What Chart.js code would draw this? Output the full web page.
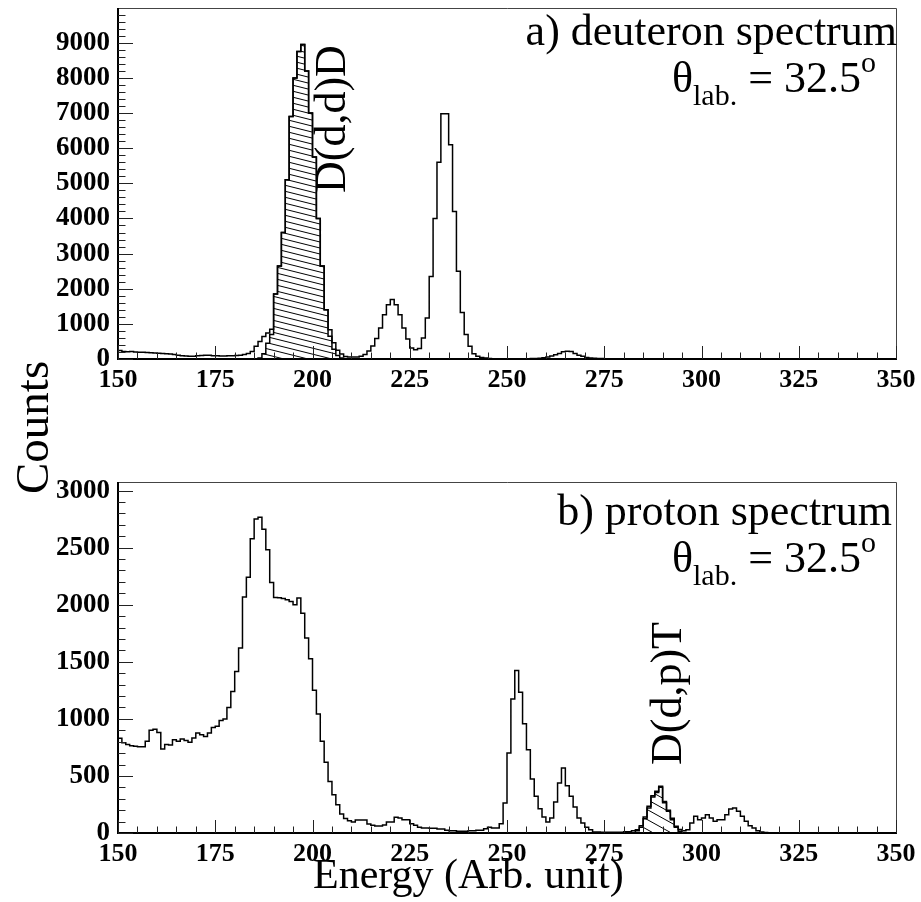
<!DOCTYPE html>
<html>
<head>
<meta charset="utf-8">
<script src="https://cdn.jsdelivr.net/npm/chart.js"></script>
<style>
html, body { margin: 0; padding: 0; background: #fff; }
#wrap { position: relative; width: 921px; height: 902px; }
#wrap canvas { position: absolute; left: 0; top: 0; }
</style>
</head>
<body>
<div id="wrap">
<canvas id="deuteronChart" width="921" height="902"></canvas>
<canvas id="protonChart" width="921" height="902"></canvas>
</div>
<script>
// histogram bins are 1 energy unit wide, first bin starts at 150
var binStart = 150;

// a) deuteron spectrum, bins 150..349
var deuteronCounts = [
  240, 215, 205, 210, 200, 190, 195, 185, 175, 170,
  165, 160, 150, 140, 130, 110, 95, 85, 80, 80,
  90, 100, 110, 105, 95, 90, 85, 85, 90, 95,
  100, 110, 130, 160, 210, 360, 500, 640, 740, 850,
  1850, 2650, 3600, 5100, 6900, 8000, 8750, 8950, 8200, 7000,
  5750, 4000, 2650, 1400, 830, 460, 250, 140, 70, 55,
  55, 60, 80, 130, 230, 370, 580, 880, 1260, 1545,
  1690, 1545, 1260, 880, 570, 310, 265, 300, 600, 1170,
  2350, 4000, 5600, 6980, 6980, 6100, 4200, 2500, 1320, 700,
  360, 150, 80, 40, 25, 15, 10, 10, 8, 8,
  8, 8, 8, 8, 10, 10, 12, 15, 20, 35,
  55, 85, 120, 160, 205, 220, 215, 160, 110, 75,
  45, 30, 20, 15, 12, 10, 10, 10, 8, 8,
  8, 6, 5, 4, 3, 2, 2, 1, 1, 1,
  0, 0, 0, 0, 0, 0, 0, 0, 0, 0,
  0, 0, 0, 0, 0, 0, 0, 0, 0, 0,
  0, 0, 0, 0, 0, 0, 0, 0, 0, 0,
  0, 0, 0, 0, 0, 0, 0, 0, 0, 0,
  0, 0, 0, 0, 0, 0, 0, 0, 0, 0,
  0, 0, 0, 0, 0, 0, 0, 0, 0, 0
];

// D(d,d)D elastic part (hatched), bins 186..207
var ddStart = 186;
var ddCounts = [30, 150, 450, 700, 1850, 2650, 3600, 5100, 6900, 8000, 8750,
  8950, 8200, 7000, 5750, 4000, 2650, 1400, 650, 280, 100, 30];

// b) proton spectrum, bins 150..349
var protonCounts = [
  830, 790, 775, 765, 760, 755, 755, 803, 900, 910,
  880, 735, 775, 770, 817, 803, 823, 810, 795, 832,
  875, 860, 846, 875, 925, 935, 985, 998, 1100, 1240,
  1415, 1620, 2067, 2240, 2578, 2750, 2767, 2662, 2481, 2195,
  2064, 2060, 2055, 2043, 2029, 2000, 2058, 1926, 1708, 1527,
  1250, 1042, 803, 619, 452, 336, 248, 166, 126, 108,
  96, 114, 114, 114, 79, 67, 61, 61, 70, 96,
  96, 137, 131, 117, 117, 82, 67, 50, 44, 44,
  41, 41, 35, 35, 23, 20, 20, 15, 15, 15,
  20, 20, 23, 23, 38, 50, 44, 44, 82, 263,
  700, 1173, 1424, 1232, 957, 730, 473, 321, 213, 140,
  96, 131, 271, 438, 569, 415, 321, 228, 131, 88,
  50, 29, 9, 9, 6, 6, 6, 6, 6, 6,
  12, 12, 20, 29, 64, 140, 234, 327, 365, 409,
  277, 200, 130, 60, 30, 20, 29, 88, 146, 117,
  131, 160, 131, 102, 117, 117, 160, 210, 219, 190,
  146, 102, 64, 44, 20, 8, 5, 3, 0, 0,
  0, 0, 0, 0, 0, 0, 0, 0, 0, 0,
  0, 0, 0, 0, 0, 0, 0, 0, 0, 0,
  0, 0, 0, 0, 0, 0, 0, 0, 0, 0
];

// D(d,p)T part (hatched), bins 283..294
var dpStart = 283;
var dpCounts = [20, 50, 125, 220, 315, 355, 400, 265, 190, 115, 50, 15];

var energyTicks = [150, 175, 200, 225, 250, 275, 300, 325, 350];
var deuteronTicks = [0, 1000, 2000, 3000, 4000, 5000, 6000, 7000, 8000, 9000];
var protonTicks = [0, 500, 1000, 1500, 2000, 2500, 3000];

var SERIF = '"Liberation Serif", "DejaVu Serif", serif';

// turn bin contents into step points (left edges + closing edge)
function histPoints(start, counts, closed) {
  var pts = [];
  if (closed) pts.push({x: start, y: 0});
  counts.forEach(function(v, i) { pts.push({x: start + i, y: v}); });
  pts.push({x: start + counts.length, y: counts[counts.length - 1]});
  if (closed) pts.push({x: start + counts.length, y: 0});
  return pts;
}

function hatch(ctx, w, d) {
  var c = document.createElement('canvas');
  c.width = w; c.height = d;
  var g = c.getContext('2d');
  g.strokeStyle = '#000';
  g.lineWidth = 1;
  for (var k = -1; k <= 1; k++) {
    g.beginPath();
    g.moveTo(0, k * d);
    g.lineTo(w, k * d + d);
    g.stroke();
  }
  return ctx.createPattern(c, 'repeat');
}

function drawTheta(ctx, right, base) {
  var parts = [
    ['\u03b8', '44px ' + SERIF, 0],
    ['lab.', '30px ' + SERIF, 13],
    [' = 32.5', '44px ' + SERIF, 0],
    ['o', '30px ' + SERIF, -20]
  ];
  var total = 0;
  parts.forEach(function(p) { ctx.font = p[1]; total += ctx.measureText(p[0]).width; });
  var x = right - total;
  ctx.textAlign = 'left';
  ctx.textBaseline = 'alphabetic';
  parts.forEach(function(p) {
    ctx.font = p[1];
    ctx.fillText(p[0], x, base + p[2]);
    x += ctx.measureText(p[0]).width;
  });
}

function drawRotated(ctx, text, x, y, font) {
  ctx.save();
  ctx.translate(x, y);
  ctx.rotate(-Math.PI / 2);
  ctx.font = font;
  ctx.textAlign = 'left';
  ctx.textBaseline = 'alphabetic';
  ctx.fillText(text, 0, 0);
  ctx.restore();
}

// frame, inward ticks, labels and annotations in ROOT style
function framePlugin(cfg) {
  return {
    id: 'rootFrame',
    afterDraw: function(chart) {
      var ctx = chart.ctx, a = chart.chartArea;
      var xs = chart.scales.x, ys = chart.scales.y;
      ctx.save();
      ctx.strokeStyle = '#444';
      ctx.lineWidth = 1;
      ctx.beginPath();
      ctx.moveTo(a.left, a.top + 0.5);
      ctx.lineTo(a.right + 0.5, a.top + 0.5);
      ctx.lineTo(a.right + 0.5, a.bottom);
      ctx.stroke();

      ctx.strokeStyle = '#000';
      ctx.lineWidth = 2;
      ctx.beginPath();
      ctx.moveTo(a.left, a.top);
      ctx.lineTo(a.left, a.bottom);
      ctx.lineTo(a.right + 1, a.bottom);
      ctx.stroke();

      ctx.lineWidth = 1;
      ctx.strokeStyle = '#222';
      var v, p, len;
      for (v = 150; v <= 350; v += 5) {
        p = Math.round(xs.getPixelForValue(v)) + 0.5;
        len = (v % 25 === 0) ? 13 : 6.5;
        ctx.beginPath(); ctx.moveTo(p, a.bottom); ctx.lineTo(p, a.bottom - len); ctx.stroke();
      }
      for (v = 0; v <= ys.max; v += cfg.minor) {
        p = Math.round(ys.getPixelForValue(v)) + 0.5;
        len = (v % cfg.major === 0) ? 15 : 7.5;
        ctx.beginPath(); ctx.moveTo(a.left, p); ctx.lineTo(a.left + len, p); ctx.stroke();
      }

      ctx.fillStyle = '#000';
      ctx.font = 'bold 26px ' + SERIF;
      ctx.textAlign = 'center';
      ctx.textBaseline = 'alphabetic';
      energyTicks.forEach(function(t) {
        ctx.fillText(String(t), xs.getPixelForValue(t), a.bottom + 28);
      });
      ctx.font = 'bold 27px ' + SERIF;
      ctx.textAlign = 'right';
      ctx.textBaseline = 'middle';
      cfg.yTicks.forEach(function(t) {
        ctx.fillText(String(t), a.left - 8, ys.getPixelForValue(t));
      });

      ctx.font = '44px ' + SERIF;
      ctx.textAlign = 'right';
      ctx.textBaseline = 'alphabetic';
      ctx.fillText(cfg.title, cfg.titleRight, cfg.titleBase);
      drawTheta(ctx, 876, cfg.titleBase + 47);
      drawRotated(ctx, cfg.reaction, cfg.reactionX, cfg.reactionY, '44px ' + SERIF);
      if (cfg.axisTitles) {
        drawRotated(ctx, 'Counts', 48, 494, '47px ' + SERIF);
        ctx.font = '42px ' + SERIF;
        ctx.textAlign = 'left';
        ctx.fillText('Energy (Arb. unit)', 313, 888);
      }
      ctx.restore();
    }
  };
}

function makeChart(id, total, partStart, partCounts, pattern, yMax, pad, cfg) {
  return new Chart(document.getElementById(id), {
    type: 'line',
    data: {
      datasets: [
        {
          data: histPoints(partStart, partCounts, true),
          borderColor: '#000',
          borderWidth: 1.5,
          backgroundColor: pattern,
          fill: 'origin',
          stepped: 'before',
          pointRadius: 0
        },
        {
          data: histPoints(binStart, total, false),
          borderColor: '#000',
          borderWidth: 1.5,
          fill: false,
          stepped: 'before',
          pointRadius: 0
        }
      ]
    },
    options: {
      responsive: false,
      animation: false,
      devicePixelRatio: 1,
      events: [],
      layout: { padding: pad },
      plugins: { legend: { display: false }, tooltip: { enabled: false } },
      elements: { line: { tension: 0 } },
      scales: {
        x: { type: 'linear', min: 150, max: 350, display: false },
        y: { type: 'linear', min: 0, max: yMax, display: false }
      }
    },
    plugins: [framePlugin(cfg)]
  });
}

var ctxA = document.getElementById('deuteronChart').getContext('2d');
var ctxB = document.getElementById('protonChart').getContext('2d');

makeChart('deuteronChart', deuteronCounts, ddStart, ddCounts, hatch(ctxA, 24, 6), 9990,
  {left: 118, right: 25, top: 8, bottom: 543},
  {minor: 200, major: 1000, yTicks: deuteronTicks, title: 'a) deuteron spectrum',
   titleRight: 897, titleBase: 45, reaction: 'D(d,d)D', reactionX: 345, reactionY: 193});

makeChart('protonChart', protonCounts, dpStart, dpCounts, hatch(ctxB, 18, 10), 3075,
  {left: 118, right: 25, top: 482, bottom: 69},
  {minor: 100, major: 500, yTicks: protonTicks, title: 'b) proton spectrum',
   titleRight: 892, titleBase: 525, reaction: 'D(d,p)T', reactionX: 681, reactionY: 765,
   axisTitles: true});
</script>
</body>
</html>
